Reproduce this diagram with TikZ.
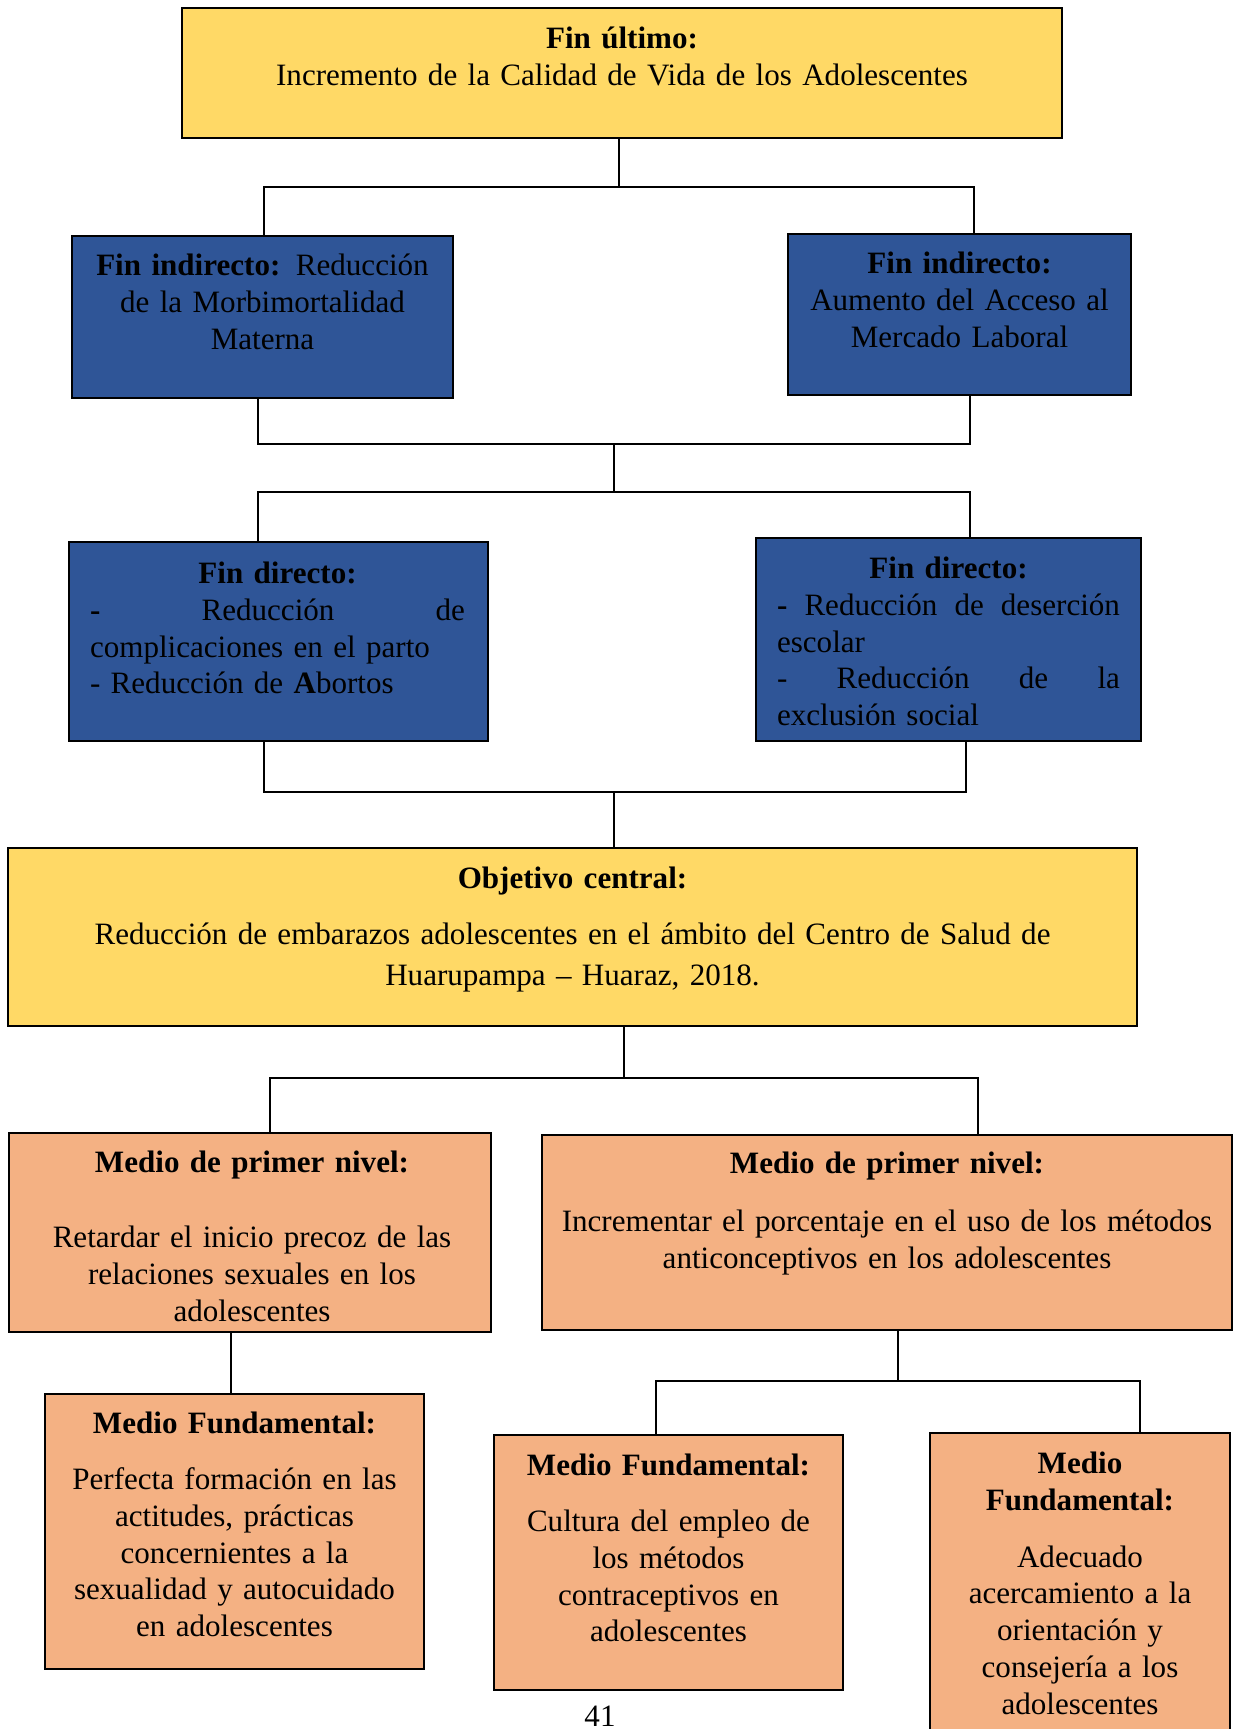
\documentclass[tikz,border=0pt]{standalone}
\usepackage{fontspec}
\setmainfont{Liberation Serif}
\usetikzlibrary{fit}
\definecolor{amarillo}{HTML}{FFD966}
\definecolor{azulfin}{HTML}{2F5597}
\definecolor{naranjo}{HTML}{F4B183}
\tikzset{
  caja/.style={draw=black,line width=0.9pt,inner sep=0pt},
  amarilla/.style={caja,fill=amarillo},
  azul/.style={caja,fill=azulfin},
  naranja/.style={caja,fill=naranjo},
  txt/.style={inner sep=0pt,anchor=north,align=center,font=\fontsize{11.65}{13.8}\selectfont},
  enlace/.style={line width=0.75pt}
}
\begin{document}
\begin{tikzpicture}[x=0.375pt,y=-0.375pt]
   \useasboundingbox (0,0) rectangle (1235,1729);
   % cajas
   \node[amarilla,fit={(182,8) (1062,138)}] (ultimo) {};
   \node[azul,fit={(72,236) (453,398)}] (indirA) {};
   \node[azul,fit={(788,234) (1131,395)}] (indirB) {};
   \node[azul,fit={(69,542) (488,741)}] (dirA) {};
   \node[azul,fit={(756,538) (1141,741)}] (dirB) {};
   \node[amarilla,fit={(8,848) (1137,1026)}] (central) {};
   \node[naranja,fit={(9,1133) (491,1332)}] (medioA) {};
   \node[naranja,fit={(542,1135) (1232,1330)}] (medioB) {};
   \node[naranja,fit={(45,1394) (424,1669)}] (fundA) {};
   \node[naranja,fit={(494,1435) (843,1690)}] (fundB) {};
   \node[naranja,fit={(930,1433) (1230,1760)}] (fundC) {};
   % textos
   \node[txt,text width=320pt] (ultimo-t) at (622,22.2)
      {\strut\textbf{Fin último:}\\ Incremento de la Calidad de Vida de los Adolescentes};
   \node[txt,text width=134pt] (indirA-t) at (262.5,249.2)
      {\strut\textbf{Fin indirecto:} Reducción\\ de la Morbimortalidad\\ Materna};
   \node[txt,text width=120pt] (indirB-t) at (959.5,247.2)
      {\strut\textbf{Fin indirecto:}\\ Aumento del Acceso al\\ Mercado Laboral};
   \node[txt,align=left,text width=140.6pt] (dirA-t) at (277.5,557.2)
      {\strut\hfill\textbf{Fin directo:}\hfill\null\\
       \textbf{-}\hfill Reducción\hfill de\\
       complicaciones en el parto\\
       - Reducción de \textbf{A}bortos};
   \node[txt,align=left,text width=128.6pt] (dirB-t) at (948.5,552.2)
      {\strut\hfill\textbf{Fin directo:}\hfill\null\\
       \textbf{-}\hfill Reducción\hfill de\hfill deserción\\
       escolar\\
       -\hfill Reducción\hfill de\hfill la\\
       exclusión social};
   \node[txt,text width=410pt] (central-t) at (572.5,862.2)
      {\strut\textbf{Objetivo central:}\\[7.2pt]
       Reducción de embarazos adolescentes en el ámbito del Centro de Salud de\\[1.6pt]
       Huarupampa – Huaraz, 2018.};
   \node[txt,text width=172pt] (medioA-t) at (252,1146.2)
      {\strut\textbf{Medio de primer nivel:}\\[14.3pt]
       Retardar el inicio precoz de las\\ relaciones sexuales en los\\ adolescentes};
   \node[txt,text width=254pt] (medioB-t) at (887,1147.2)
      {\strut\textbf{Medio de primer nivel:}\\[8pt]
       Incrementar el porcentaje en el uso de los métodos\\ anticonceptivos en los adolescentes};
   \node[txt,text width=136pt] (fundA-t) at (234.5,1407.2)
      {\strut\textbf{Medio Fundamental:}\\[7.2pt]
       Perfecta formación en las\\ actitudes, prácticas\\ concernientes a la\\
       sexualidad y autocuidado\\ en adolescentes};
   \node[txt,text width=125pt] (fundB-t) at (668.5,1449.2)
      {\strut\textbf{Medio Fundamental:}\\[7.2pt]
       Cultura del empleo de\\ los métodos\\ contraceptivos en\\ adolescentes};
   \node[txt,text width=106pt] (fundC-t) at (1080,1447.2)
      {\strut\textbf{Medio}\\ \textbf{Fundamental:}\\[7.5pt]
       Adecuado\\ acercamiento a la\\ orientación y\\ consejería a los\\ adolescentes};
   \node[inner sep=0pt,anchor=base,font=\fontsize{11.65}{13.8}\selectfont] (pagina) at (600,1726) {41};
   % conectores
   \coordinate (busA) at (619,187);
   \coordinate (busB) at (614,444);
   \coordinate (busC) at (614,492);
   \coordinate (busD) at (614,792);
   \coordinate (busE) at (624,1078);
   \coordinate (busF) at (898,1381);
   \coordinate (linkA) at (231,1360);
   \draw[enlace] (ultimo.south -| busA) -- (busA);
   \draw[enlace] ([shift={(1.5,0)}]indirA.north) |- (busA) -| ([shift={(14.5,0)}]indirB.north);
   \draw[enlace] ([shift={(-4.5,0)}]indirA.south) |- (busB) -| ([shift={(10.5,0)}]indirB.south);
   \draw[enlace] (busB) -- (busC);
   \draw[enlace] ([shift={(-20.5,0)}]dirA.north) |- (busC) -| ([shift={(21.5,0)}]dirB.north);
   \draw[enlace] ([shift={(-14.5,0)}]dirA.south) |- (busD) -| ([shift={(17.5,0)}]dirB.south);
   \draw[enlace] (busD) -- (busD |- central.north);
   \draw[enlace] (central.south -| busE) -- (busE);
   \draw[enlace] ([shift={(20,0)}]medioA.north) |- (busE) -| ([shift={(91,0)}]medioB.north);
   \draw[enlace] (medioA.south -| linkA) -- (fundA.north -| linkA);
   \draw[enlace] (medioB.south -| busF) -- (busF);
   \draw[enlace] ([shift={(-12.5,0)}]fundB.north) |- (busF) -| ([shift={(60,0)}]fundC.north);
\end{tikzpicture}
\end{document}
